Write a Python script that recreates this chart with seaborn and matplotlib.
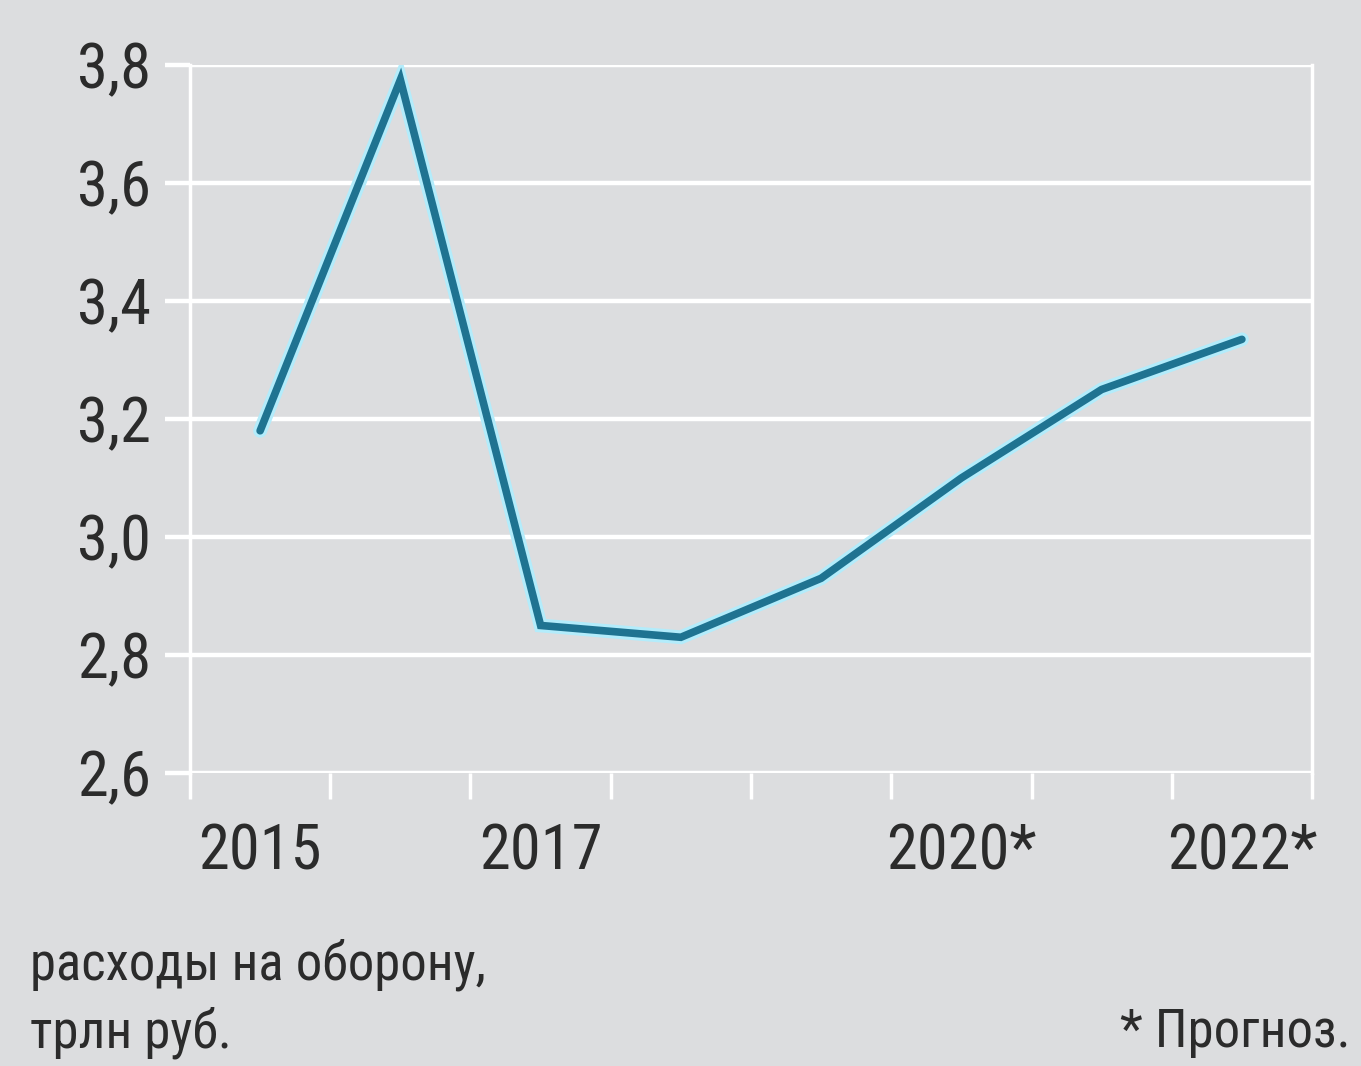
import numpy as np
import pandas as pd
import matplotlib
matplotlib.use("Agg")
import matplotlib.pyplot as plt
import matplotlib.patheffects as pe
from matplotlib import font_manager as fm
import seaborn as sns

# Defence spending, trillion roubles (2020-2022 forecast)
years = [2015, 2016, 2017, 2018, 2019, 2020, 2021, 2022]
spending = [3.18, 3.775, 2.85, 2.83, 2.93, 3.10, 3.25, 3.335]
year_labels = ["2015", "", "2017", "", "", "2020*", "", "2022*"]
y_ticks = [2.6, 2.8, 3.0, 3.2, 3.4, 3.6, 3.8]
y_tick_labels = ["2,6", "2,8", "3,0", "3,2", "3,4", "3,6", "3,8"]

BG = "#dcdddf"
LINE = "#1f7391"
HALO = "#b3ecfb"
TEXT = "#2b2b2b"

sns.set_theme(style="white")
plt.rcParams["font.family"] = ["DejaVu Sans"]

# pick a narrow face when one is available
names = {f.name for f in fm.fontManager.ttflist}
narrow = None
for cand in ["Roboto Condensed", "Liberation Sans Narrow", "Open Sans Condensed",
             "Noto Sans Condensed", "DejaVu Sans Condensed"]:
    if cand in names:
        narrow = cand
        break
FONT = dict(family=[narrow, "DejaVu Sans"] if narrow else ["DejaVu Sans"],
            stretch="condensed")

df = pd.DataFrame({"year": years, "spending": spending})

fig = plt.figure(figsize=(13.61, 10.66), dpi=100, facecolor=BG)
ax = fig.add_axes([0.1396, 0.2749, 0.964 - 0.1396, 0.939 - 0.2749])
ax.set_facecolor(BG)

# horizontal grid lines
for v in y_ticks:
    ax.axhline(v, color="white", lw=3.2, zorder=1)

sns.lineplot(data=df, x="year", y="spending", ax=ax, color=LINE, lw=5.5,
             zorder=3, solid_joinstyle="miter",
             path_effects=[pe.Stroke(linewidth=10, foreground=HALO), pe.Normal()])

ax.set_xlim(years[0] - 0.5, years[-1] + 0.5)
ax.set_ylim(2.6, 3.8)

ax.set_yticks(y_ticks)
ax.set_yticklabels(y_tick_labels, fontsize=45, color=TEXT, **FONT)
ax.tick_params(axis="y", which="major", direction="out", length=18,
               width=3.2, color="white", pad=10, left=True)

ax.set_xticks(years)
ax.set_xticklabels(year_labels, fontsize=45, color=TEXT, **FONT)
ax.set_xticks(np.arange(years[0] - 0.5, years[-1] + 1.0, 1.0), minor=True)
ax.tick_params(axis="x", which="major", length=0, pad=36)
ax.tick_params(axis="x", which="minor", direction="out", length=19,
               width=2.5, color="white", bottom=True)

for side in ["top", "bottom"]:
    ax.spines[side].set_visible(False)
for side in ["left", "right"]:
    ax.spines[side].set_visible(True)
    ax.spines[side].set_color("white")
    ax.spines[side].set_linewidth(2.5)

ax.set_xlabel("")
ax.set_ylabel("")

fig.text(0.022, 1 - 965 / 1066, "расходы на оборону,", fontsize=38,
         color=TEXT, ha="left", va="center", **FONT)
fig.text(0.022, 1 - 1033 / 1066, "трлн руб.", fontsize=38,
         color=TEXT, ha="left", va="center", **FONT)
fig.text(0.992, 1 - 1033 / 1066, "* Прогноз.", fontsize=38, color=TEXT,
         ha="right", va="center", **FONT)

fig.savefig("out.png", dpi=100, facecolor=BG)
